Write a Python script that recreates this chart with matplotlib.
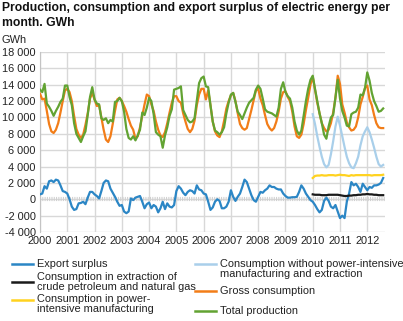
import matplotlib
matplotlib.use("Agg")
import matplotlib.pyplot as plt
from matplotlib.lines import Line2D
import numpy as np

plt.rcParams['font.family'] = ['Liberation Sans', 'DejaVu Sans']

# Monthly values, GWh (Jan 2000 - Aug 2012)
export_surplus = [
    600, 700, 1600, 1300, 2200, 2300, 2100, 2400, 2300, 1700, 1000, 900,
    700, 0, -900, -1300, -1200, -500, -450, -300, -600, 200, 900, 900,
    600, 400, 100, 1000, 2000, 2300, 2200, 1300, 800, 300, -300, -800,
    -700, -1500, -1700, -1500, 100, -100, 200, 300, 400, -300, -1100, -600,
    -400, -1100, -700, -900, -1600, -1100, -300, -1200, -500, -900, -1000, -700,
    1000, 1600, 1300, 800, 500, 900, 1100, 1000, 700, 1700, 1200, 1100,
    700, 600, -300, -1300, -1000, -300, 0, -200, -1100, -1100, -900, -300,
    1100, 300, -200, 300, 700, 1500, 2400, 2100, 1300, 500, -100, -300,
    300, 900, 800, 1100, 1300, 1700, 1500, 1500, 1300, 1200, 1200, 700,
    400, 200, 200, 250, 250, 300, 900, 1700, 1300, 700, 300, -100,
    -300, -700, -1200, -1600, -1300, -200, 200, -200, -900, -1100, -700, -1500,
    -2300, -2000, -2300, -300, 700, 2100, 1700, 1900, 1500, 900, 1900, 1500,
    1100, 1500, 1400, 1700, 1700, 1800, 2000, 2600,
]

gross_consumption = [
    12900, 12200, 12300, 10800, 9200, 8300, 8100, 8500, 9300, 10600, 12000, 13300,
    13500, 13100, 12000, 10200, 8600, 7900, 7500, 7900, 9100, 10500, 12300, 13000,
    12200, 11400, 11500, 10000, 8500, 7300, 7000, 7700, 9200, 10800, 12200, 12400,
    12000, 11400, 10700, 9800, 9000, 8500, 7400, 7700, 8800, 10200, 11600, 12800,
    12600, 11600, 10800, 9500, 8500, 7800, 7600, 8200, 9300, 10600, 11800, 12600,
    12600, 12000, 11800, 10500, 9500, 8600, 8200, 8600, 9600, 11500, 12800, 13500,
    13500, 12200, 13300, 11500, 9500, 8300, 7800, 7600, 8300, 9600, 11100, 12000,
    12700, 13000, 12000, 10500, 9200, 8700, 8500, 8700, 9800, 10900, 12100, 13300,
    13500, 12300, 11500, 10300, 9200, 8700, 8400, 8700, 9500, 10700, 12300, 13100,
    13200, 12500, 12000, 10700, 8900, 7700, 7500, 7900, 9200, 10900, 12400, 14000,
    15000, 13400, 11800, 10500, 9300, 8700, 8300, 8500, 9300, 10600, 12400, 15100,
    14100, 11600, 10600, 9400, 8800, 8400, 8500, 8900, 10000, 11600, 12500, 13600,
    13900, 12200, 11500, 10300, 9300, 8800, 8700, 8700,
]

total_production = [
    13400, 13100, 14100, 11700, 11300, 10800, 10200, 10800, 11300, 11900, 12300, 13900,
    13900, 12500, 11500, 9300, 8000, 7500, 7000, 7700, 8300, 10300, 12500, 13700,
    12200, 11700, 11600, 9900, 9700, 9900, 9300, 9700, 9500, 11900, 12000, 12400,
    12000, 10700, 8600, 7500, 7300, 7700, 7200, 7800, 8500, 10600, 10300, 11200,
    12400, 12000, 10400, 8200, 7900, 7700, 6300, 7800, 8800, 10200, 11000, 13400,
    13500, 13600, 13800, 10900, 10300, 9700, 9400, 9500, 9900, 12000, 14200, 14800,
    15000, 13800, 13700, 11500, 9500, 8400, 8200, 7900, 8200, 8800, 10500, 11800,
    12800, 13000, 11900, 10700, 10300, 9800, 10500, 11200, 11800, 12100, 12400, 13400,
    13900, 13500, 12300, 11000, 10700, 10600, 10500, 10300, 10100, 11200, 13500, 14300,
    13100, 12600, 12300, 11200, 9500, 8400, 7900, 8400, 10200, 12000, 13500, 14600,
    15100, 13500, 12000, 10500, 9300, 7900, 7400, 8900, 10000, 10300, 12400, 14600,
    12300, 10800, 10000, 9000, 8900, 10400, 10600, 10700, 11200, 12800, 12700, 13600,
    15500, 14500, 13000, 12000, 11400, 10700, 10800, 11100,
]

# Series published from Jan 2010 only
cons_without_pi = [
    10400, 9200, 7700, 6400, 5200, 4300, 3900, 4200, 5500, 7100, 8900, 10100,
    9000, 7700, 6400, 5200, 4400, 3900, 3800, 4400, 5200, 6600, 7700, 8300,
    8800, 8200, 7300, 6300, 5200, 4300, 4000, 4200,
]

cons_power_intensive = [
    2600, 2850, 2900, 2900, 2950, 2900, 2900, 2950, 2950, 2950, 2900, 2950,
    3000, 2950, 2950, 2900, 2850, 2950, 2900, 2950, 2950, 2950, 2950, 2950,
    2950, 2950, 2900, 2950, 2950, 2950, 2950, 3000,
]

cons_extraction = [
    600, 550, 550, 550, 500, 500, 500, 550, 550, 550, 550, 550,
    500, 450, 400, 400, 450, 450, 500, 500, 550, 550, 600, 600,
    650, 600, 600, 550, 550, 500, 500, 500,
]

years = list(range(2000, 2013))
y_ticks = list(range(-4000, 18001, 2000))

c_export = '#2b86c5'
c_extract = '#1a1a1a'
c_without = '#a9cfea'
c_gross = '#f27d18'
c_power = '#ffd21f'
c_total = '#62a332'

t_all = 2000 + np.arange(len(export_surplus)) / 12
t_2010 = 2010 + np.arange(len(cons_without_pi)) / 12

fig = plt.figure(figsize=(4.03, 3.21), dpi=100)
ax = fig.add_axes([40 / 403, 1 - 232 / 321, 345 / 403, 180 / 321])

lw = 1.6
ax.plot(t_all, export_surplus, color=c_export, lw=lw, zorder=3)
ax.plot(t_2010, cons_extraction, color=c_extract, lw=lw, zorder=3)
ax.plot(t_2010, cons_without_pi, color=c_without, lw=lw, zorder=3)
ax.plot(t_all, gross_consumption, color=c_gross, lw=lw, zorder=3)
ax.plot(t_2010, cons_power_intensive, color=c_power, lw=lw, zorder=3)
ax.plot(t_all, total_production, color=c_total, lw=lw, zorder=3)

# hatched zero line
ax.axhline(0, color='#cfcfcf', lw=3, linestyle=(0, (0.25, 0.3)), zorder=2)

ax.set_xlim(2000, 2012.65)
ax.set_ylim(-4000, 18000)
ax.set_xticks(years)
ax.set_xticklabels([str(y) for y in years])
ax.set_yticks(y_ticks)
ax.set_yticklabels([f"{v:,}".replace(',', ' ') for v in y_ticks])
ax.tick_params(length=0, labelsize=7.9, colors='#222222', pad=3)
ax.grid(True, color='#d8d8d8', lw=1)
ax.set_axisbelow(True)
for side in ['top', 'right', 'bottom']:
    ax.spines[side].set_visible(False)
ax.spines['left'].set_color('#c4c4c4')

fig.text(2 / 403, 1 - 2 / 321, "Production, consumption and export surplus of electric energy per\nmonth. GWh",
         fontsize=8.7, fontweight='bold', va='top', ha='left', linespacing=1.3, color='#111111')
fig.text(2 / 403, 1 - 40 / 321, "GWh", fontsize=7.9, va='center', ha='left', color='#222222')

# legend, two columns
def legend_entry(x0, y_line, y_text, color, label):
    fig.add_artist(Line2D([x0 / 403, (x0 + 21) / 403], [1 - y_line / 321, 1 - y_line / 321],
                          color=color, lw=1.8, transform=fig.transFigure))
    fig.text((x0 + 25) / 403, 1 - y_text / 321, label, fontsize=7.9, va='center', ha='left',
             linespacing=0.95, color='#222222')

legend_entry(12, 264, 264, c_export, "Export surplus")
legend_entry(12, 282, 282, c_extract, "Consumption in extraction of\ncrude petroleum and natural gas")
legend_entry(12, 300, 304, c_power, "Consumption in power-\nintensive manufacturing")
legend_entry(195, 264, 269, c_without, "Consumption without power-intensive\nmanufacturing and extraction")
legend_entry(195, 291, 291, c_gross, "Gross consumption")
legend_entry(195, 311, 311, c_total, "Total production")

fig.savefig('out.png', dpi=100)
